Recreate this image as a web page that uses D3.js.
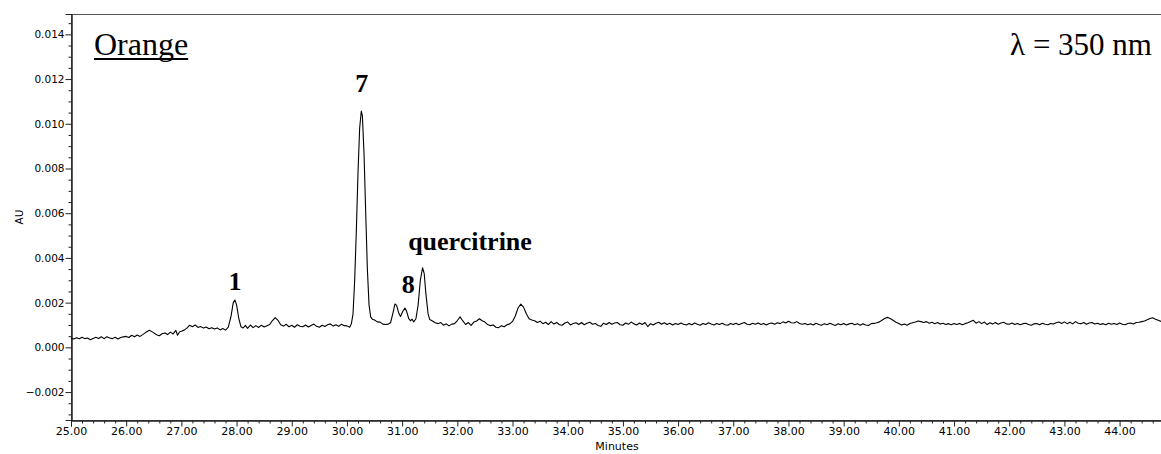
<!DOCTYPE html>
<html>
<head>
  <meta charset="utf-8">
  <title>Orange 350 nm</title>
  <script src="https://d3js.org/d3.v7.min.js"></script>
  <style>
    body { margin: 0; background: #fff; }
    svg { display: block; }
  </style>
</head>
<body>
  <svg width="1161" height="454"></svg>

  <script>
    // chromatogram trace, [minutes, AU]
    const trace = [
      [25.00,.00042],[25.05,.00037],[25.10,.00043],[25.15,.00038],[25.20,.00045],[25.25,.00039],[25.30,.00042],[25.35,.00034],[25.40,.00040],
      [25.45,.00045],[25.50,.00040],[25.55,.00047],[25.60,.00039],[25.65,.00047],[25.70,.00042],[25.75,.00039],[25.80,.00045],[25.85,.00037],
      [25.90,.00044],[25.95,.00047],[26.00,.00049],[26.05,.00044],[26.10,.00054],[26.15,.00047],[26.20,.00055],[26.25,.00049],[26.30,.00057],
      [26.35,.00066],[26.42,.00076],[26.48,.00068],[26.55,.00056],[26.60,.00052],[26.65,.00061],[26.70,.00064],[26.75,.00057],[26.80,.00068],
      [26.85,.00060],[26.90,.00076],[26.93,.00054],[26.97,.00070],[27.00,.00072],[27.05,.00077],[27.10,.00086],[27.15,.00099],[27.20,.00092],
      [27.25,.00100],[27.30,.00089],[27.35,.00093],[27.40,.00086],[27.45,.00091],[27.50,.00083],[27.55,.00088],[27.60,.00082],[27.65,.00087],
      [27.70,.00078],[27.75,.00084],[27.80,.00077],[27.85,.00090],[27.90,.00140],[27.94,.00200],[27.97,.00212],[28.00,.00190],[28.04,.00130],
      [28.08,.00092],[28.12,.00087],[28.16,.00098],[28.20,.00085],[28.25,.00100],[28.30,.00088],[28.35,.00097],[28.40,.00089],[28.45,.00099],
      [28.50,.00091],[28.55,.00097],[28.60,.00102],[28.65,.00120],[28.70,.00133],[28.75,.00121],[28.80,.00101],[28.85,.00095],[28.90,.00103],
      [28.95,.00092],[29.00,.00099],[29.05,.00090],[29.10,.00101],[29.15,.00094],[29.20,.00092],[29.25,.00100],[29.30,.00091],[29.35,.00098],
      [29.40,.00104],[29.45,.00094],[29.50,.00090],[29.55,.00099],[29.60,.00093],[29.65,.00101],[29.70,.00105],[29.75,.00095],[29.80,.00101],
      [29.85,.00094],[29.90,.00103],[29.95,.00097],[30.00,.00096],[30.05,.00090],[30.08,.00105],[30.11,.00150],[30.14,.00300],[30.17,.00520],
      [30.20,.00780],[30.23,.00980],[30.26,.01057],[30.28,.01035],[30.31,.00860],[30.34,.00600],[30.37,.00350],[30.40,.00190],[30.43,.00136],
      [30.46,.00126],[30.50,.00122],[30.55,.00114],[30.60,.00113],[30.65,.00104],[30.70,.00102],[30.75,.00104],[30.79,.00110],[30.83,.00150],
      [30.87,.00194],[30.90,.00188],[30.94,.00152],[30.97,.00138],[31.01,.00160],[31.05,.00176],[31.08,.00162],[31.12,.00128],[31.15,.00119],
      [31.18,.00126],[31.21,.00114],[31.25,.00128],[31.29,.00190],[31.33,.00300],[31.37,.00356],[31.40,.00330],[31.43,.00240],[31.47,.00150],
      [31.50,.00124],[31.55,.00118],[31.60,.00110],[31.65,.00106],[31.70,.00111],[31.75,.00099],[31.80,.00105],[31.85,.00096],[31.90,.00104],
      [31.95,.00106],[32.00,.00120],[32.05,.00136],[32.10,.00118],[32.15,.00102],[32.20,.00111],[32.25,.00098],[32.30,.00113],[32.35,.00118],
      [32.40,.00128],[32.45,.00119],[32.50,.00113],[32.55,.00102],[32.60,.00097],[32.65,.00100],[32.70,.00090],[32.75,.00088],[32.80,.00097],
      [32.85,.00092],[32.90,.00101],[32.95,.00105],[33.00,.00116],[33.05,.00140],[33.10,.00176],[33.15,.00193],[33.20,.00180],[33.25,.00150],
      [33.30,.00128],[33.35,.00122],[33.40,.00119],[33.45,.00111],[33.50,.00117],[33.55,.00106],[33.60,.00112],[33.65,.00102],[33.70,.00115],
      [33.75,.00104],[33.80,.00111],[33.85,.00101],[33.90,.00099],[33.95,.00109],[34.00,.00113],[34.05,.00100],[34.10,.00107],[34.15,.00110],
      [34.20,.00102],[34.25,.00111],[34.30,.00101],[34.35,.00108],[34.40,.00112],[34.45,.00103],[34.50,.00107],[34.55,.00098],[34.60,.00094],
      [34.65,.00108],[34.70,.00102],[34.75,.00111],[34.80,.00103],[34.85,.00109],[34.90,.00111],[34.95,.00101],[35.00,.00099],[35.05,.00109],
      [35.10,.00103],[35.15,.00113],[35.20,.00105],[35.25,.00100],[35.30,.00109],[35.35,.00102],[35.40,.00111],[35.45,.00093],[35.50,.00106],
      [35.55,.00100],[35.60,.00108],[35.65,.00112],[35.70,.00103],[35.75,.00110],[35.80,.00102],[35.85,.00108],[35.90,.00100],[35.95,.00107],
      [36.00,.00102],[36.05,.00109],[36.10,.00103],[36.15,.00100],[36.20,.00107],[36.25,.00101],[36.30,.00109],[36.35,.00103],[36.40,.00099],
      [36.45,.00107],[36.50,.00102],[36.55,.00110],[36.60,.00104],[36.65,.00100],[36.70,.00107],[36.75,.00102],[36.80,.00108],[36.85,.00101],
      [36.90,.00099],[36.95,.00107],[37.00,.00102],[37.05,.00108],[37.10,.00101],[37.15,.00107],[37.20,.00111],[37.25,.00103],[37.30,.00101],
      [37.35,.00108],[37.40,.00103],[37.45,.00109],[37.50,.00102],[37.55,.00107],[37.60,.00100],[37.65,.00107],[37.70,.00109],[37.75,.00103],
      [37.80,.00110],[37.85,.00106],[37.90,.00114],[37.95,.00109],[38.00,.00117],[38.05,.00110],[38.10,.00109],[38.15,.00115],[38.20,.00107],
      [38.25,.00103],[38.30,.00107],[38.35,.00101],[38.40,.00106],[38.45,.00100],[38.50,.00108],[38.55,.00102],[38.60,.00099],[38.65,.00106],
      [38.70,.00101],[38.75,.00108],[38.80,.00102],[38.85,.00098],[38.90,.00106],[38.95,.00101],[39.00,.00107],[39.05,.00100],[39.10,.00105],
      [39.15,.00108],[39.20,.00101],[39.25,.00106],[39.30,.00099],[39.35,.00105],[39.40,.00100],[39.45,.00098],[39.50,.00106],[39.55,.00107],
      [39.60,.00110],[39.65,.00114],[39.70,.00122],[39.75,.00130],[39.80,.00134],[39.85,.00128],[39.90,.00120],[39.95,.00112],[40.00,.00107],
      [40.05,.00100],[40.10,.00104],[40.15,.00099],[40.20,.00107],[40.25,.00110],[40.30,.00113],[40.35,.00118],[40.40,.00115],[40.45,.00111],
      [40.50,.00115],[40.55,.00108],[40.60,.00112],[40.65,.00106],[40.70,.00111],[40.75,.00104],[40.80,.00108],[40.85,.00102],[40.90,.00106],
      [40.95,.00101],[41.00,.00107],[41.05,.00102],[41.10,.00107],[41.15,.00101],[41.20,.00106],[41.25,.00110],[41.30,.00116],[41.35,.00121],
      [41.40,.00108],[41.45,.00115],[41.50,.00106],[41.55,.00113],[41.60,.00102],[41.65,.00110],[41.70,.00104],[41.75,.00111],[41.80,.00103],
      [41.85,.00109],[41.90,.00112],[41.95,.00105],[42.00,.00103],[42.05,.00109],[42.10,.00102],[42.15,.00107],[42.20,.00101],[42.25,.00106],
      [42.30,.00108],[42.35,.00102],[42.40,.00099],[42.45,.00105],[42.50,.00107],[42.55,.00101],[42.60,.00108],[42.65,.00103],[42.70,.00101],
      [42.75,.00107],[42.80,.00104],[42.85,.00110],[42.90,.00113],[42.95,.00107],[43.00,.00114],[43.05,.00106],[43.10,.00112],[43.15,.00105],
      [43.20,.00115],[43.25,.00108],[43.30,.00106],[43.35,.00111],[43.40,.00103],[43.45,.00109],[43.50,.00111],[43.55,.00104],[43.60,.00108],
      [43.65,.00102],[43.70,.00106],[43.75,.00101],[43.80,.00108],[43.85,.00103],[43.90,.00107],[43.95,.00102],[44.00,.00109],[44.05,.00103],
      [44.10,.00101],[44.15,.00107],[44.20,.00109],[44.25,.00104],[44.30,.00111],[44.35,.00112],[44.40,.00115],[44.45,.00118],[44.50,.00123],
      [44.55,.00129],[44.60,.00132],[44.65,.00126],[44.70,.00121],[44.75,.00116]
    ];

    // axis ranges and ticks
    const xDomain = [25, 44.75];
    const yDomain = [-0.00325, 0.01491];
    const xMajorTicks = [25,26,27,28,29,30,31,32,33,34,35,36,37,38,39,40,41,42,43,44];
    const yMajorTicks = [-0.002,0,0.002,0.004,0.006,0.008,0.010,0.012,0.014];

    // peak labels: text, minutes, AU (where the text sits)
    const peakNames = ["1", "7", "8", "quercitrine"];
    const peakTimes = [27.97, 30.27, 31.11, 32.23];
    const peakLevels = [0.00257, 0.01143, 0.00243, 0.00434];

    const title = "Orange";
    const wavelength = "λ = 350 nm";

    const W = 1161, H = 454;
    const m = { left: 71, top: 14, right: 0, bottom: 34 };
    const sans = "DejaVu Sans, Verdana, sans-serif";
    const serif = "Liberation Serif, Times New Roman, serif";

    const svg = d3.select("svg");

    const x = d3.scaleLinear().domain(xDomain).range([m.left, W - m.right]);
    const y = d3.scaleLinear().domain(yDomain).range([H - m.bottom, m.top]);

    svg.append("clipPath").attr("id", "clip")
      .append("rect")
      .attr("x", m.left).attr("y", m.top)
      .attr("width", W - m.left - m.right).attr("height", H - m.top - m.bottom);

    // frame
    svg.append("rect")
      .attr("x", m.left + 0.5).attr("y", m.top + 0.5)
      .attr("width", W - m.left).attr("height", H - m.top - m.bottom)
      .attr("fill", "none").attr("stroke", "#555").attr("stroke-width", 1);

    // x axis: minor every 0.2 min (own group, so the major call doesn't wipe them)
    const xMinor = d3.range(125, 224).filter(k => k % 5 !== 0).map(k => k / 5);
    const xBase = `translate(0,${H - m.bottom + 0.5})`;
    svg.append("g").attr("transform", xBase)
      .call(d3.axisBottom(x).tickValues(xMinor).tickSize(3).tickFormat(""));
    svg.append("g").attr("transform", xBase)
      .call(d3.axisBottom(x).tickValues(xMajorTicks).tickSize(6).tickPadding(2).tickFormat(d3.format(".2f")));

    // y axis: minor every 0.0005
    const yMinor = d3.range(-6, 30).filter(k => k % 4 !== 0).map(k => k * 0.0005);
    const yBase = `translate(${m.left + 0.5},0)`;
    svg.append("g").attr("transform", yBase)
      .call(d3.axisLeft(y).tickValues(yMinor).tickSize(3).tickFormat(""));
    const yAxis = svg.append("g").attr("transform", yBase)
      .call(d3.axisLeft(y).tickValues(yMajorTicks).tickSize(6).tickPadding(1).tickFormat(d3.format(".3f")));

    svg.selectAll(".domain").attr("stroke", "#222");
    svg.selectAll(".tick line").attr("stroke", "#222");
    svg.selectAll(".tick text")
      .attr("font-family", sans).attr("fill", "#000")
      .attr("font-size", 11);
    yAxis.selectAll(".tick text").attr("font-size", 10.5);
    svg.selectAll("g[transform='" + xBase + "'] .tick text").attr("dy", "0.6em");

    // axis titles
    svg.append("text")
      .attr("x", 617).attr("y", 450)
      .attr("text-anchor", "middle")
      .attr("font-family", sans).attr("font-size", 11)
      .text("Minutes");
    svg.append("text")
      .attr("transform", `translate(23,${(y(yDomain[0]) + y(yDomain[1])) / 2}) rotate(-90)`)
      .attr("text-anchor", "middle")
      .attr("font-family", sans).attr("font-size", 10.5)
      .text("AU");

    // trace
    const line = d3.line().x(d => x(d[0])).y(d => y(d[1]));
    svg.append("path")
      .datum(trace)
      .attr("clip-path", "url(#clip)")
      .attr("fill", "none")
      .attr("stroke", "#000")
      .attr("stroke-width", 1.1)
      .attr("stroke-linejoin", "round")
      .attr("d", line);

    // peak labels
    svg.append("g").selectAll("text")
      .data(peakNames)
      .join("text")
      .attr("x", (d, i) => x(peakTimes[i]))
      .attr("y", (d, i) => y(peakLevels[i]))
      .attr("text-anchor", "middle")
      .attr("font-family", serif)
      .attr("font-weight", "bold")
      .attr("font-size", 26)
      .text(d => d);

    // title and wavelength
    const t = svg.append("text")
      .attr("x", 94).attr("y", 55)
      .attr("font-family", serif)
      .attr("font-size", 32)
      .text(title);
    const tw = t.node().getComputedTextLength();
    svg.append("line")
      .attr("x1", 94).attr("x2", 94 + tw)
      .attr("y1", 59).attr("y2", 59)
      .attr("stroke", "#000").attr("stroke-width", 2);

    svg.append("text")
      .attr("x", 1152).attr("y", 55)
      .attr("text-anchor", "end")
      .attr("font-family", serif)
      .attr("font-size", 31)
      .text(wavelength);
  </script>
</body>
</html>
